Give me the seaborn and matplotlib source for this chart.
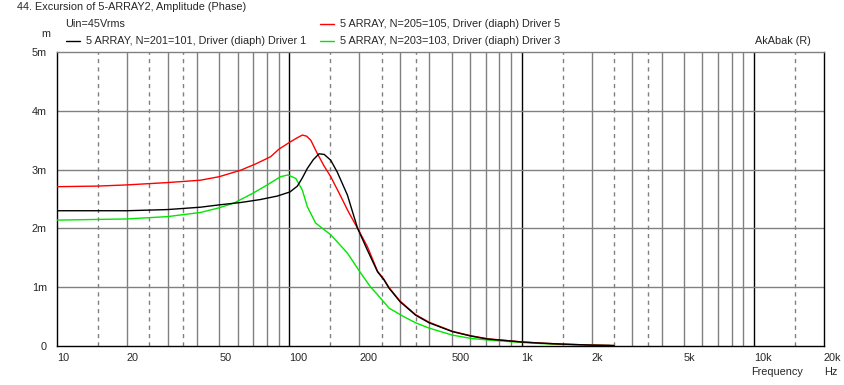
"""Excursion of 5-ARRAY2 (AkAbak style plot)"""

import matplotlib
matplotlib.use("Agg")
import matplotlib.pyplot as plt
import seaborn as sns
import pandas as pd

# Driver 5 (red)
freq_d5 = [10, 15, 20, 30, 41.5, 50, 61.8, 72, 83.2, 90.4, 100.8, 108, 114, 119, 124,
           132, 141, 151, 167, 180, 197, 217, 240, 256, 269, 300, 350, 400, 504, 604,
           713, 899, 1000, 1200, 1480, 2000, 2500]
exc_d5 = [2.71, 2.72, 2.74, 2.78, 2.82, 2.88, 2.99, 3.10, 3.22, 3.35, 3.47, 3.54, 3.59,
          3.57, 3.50, 3.28, 3.07, 2.88, 2.54, 2.28, 2.00, 1.69, 1.27, 1.13, 0.99, 0.76,
          0.53, 0.40, 0.245, 0.17, 0.118, 0.082, 0.065, 0.045, 0.028, 0.01, 0.003]

# Driver 1 (black)
freq_d1 = [10, 20, 30, 41.5, 50, 61.8, 75, 88.9, 100.8, 108.5, 114, 119.7, 127, 134.5,
           141.5, 151, 161, 178, 197, 217, 240, 256, 269, 300, 350, 400, 504, 604, 713,
           899, 1000, 1200, 1480, 2000, 2500]
exc_d1 = [2.30, 2.30, 2.32, 2.36, 2.40, 2.44, 2.49, 2.55, 2.62, 2.72, 2.86, 3.02, 3.17,
          3.27, 3.26, 3.16, 2.96, 2.57, 2.00, 1.63, 1.26, 1.12, 0.98, 0.75, 0.52, 0.39,
          0.24, 0.165, 0.114, 0.08, 0.063, 0.045, 0.028, 0.01, 0.003]

# Driver 3 (green)
freq_d3 = [10, 20, 30, 41.5, 50, 57.8, 70, 80.5, 91.8, 98.9, 106.8, 114, 119.7, 130,
           151, 178, 203, 224, 240, 269, 313, 350, 400, 504, 604, 713, 899, 1000, 1370,
           1800, 2400]
exc_d3 = [2.14, 2.16, 2.20, 2.27, 2.35, 2.43, 2.60, 2.74, 2.88, 2.91, 2.85, 2.65, 2.37,
          2.09, 1.89, 1.58, 1.24, 1.00, 0.87, 0.64, 0.49, 0.39, 0.30, 0.18, 0.125, 0.097,
          0.068, 0.055, 0.025, 0.012, 0.004]

x_ticks = [10, 20, 50, 100, 200, 500, 1000, 2000, 5000, 10000, 20000]
x_labels = ["10", "20", "50", "100", "200", "500", "1k", "2k", "5k", "10k", "20k"]
y_ticks = [0, 1, 2, 3, 4, 5]
y_labels = ["0", "1m", "2m", "3m", "4m", "5m"]

df = pd.concat([
    pd.DataFrame({"freq": freq_d3, "exc": exc_d3, "driver": "Driver 3"}),
    pd.DataFrame({"freq": freq_d5, "exc": exc_d5, "driver": "Driver 5"}),
    pd.DataFrame({"freq": freq_d1, "exc": exc_d1, "driver": "Driver 1"}),
])
palette = {"Driver 5": "#ff0000", "Driver 1": "#000000", "Driver 3": "#00e600"}

sns.set_style("white")
plt.rcParams["font.family"] = ["Liberation Sans", "DejaVu Sans"]
FS = 7.8

W, H = 845, 385
fig = plt.figure(figsize=(W / 100, H / 100), dpi=100)
ax = fig.add_axes([56.7 / W, 1 - 345.7 / H, (824 - 56.7) / W, (345.7 - 52.3) / H])
ax.set_xscale("log")
ax.set_xlim(10, 20000)
ax.set_ylim(0, 5)

# grid like the original program
grey = "#808080"
for dec in [10, 100, 1000, 10000]:
    for m in range(2, 10):
        f = dec * m
        if f < 20000:
            ax.axvline(f, color=grey, lw=1.0, zorder=1)
    for m in [1.5, 2.5, 3.5]:
        f = dec * m
        if f < 20000:
            ax.axvline(f, color=grey, lw=1.0, ls=(0, (3, 3)), zorder=1)
for dec in [100, 1000, 10000]:
    ax.axvline(dec, color="black", lw=1.0, zorder=1)
for v in [1, 2, 3, 4]:
    ax.axhline(v, color=grey, lw=1.0, zorder=1)

sns.lineplot(data=df, x="freq", y="exc", hue="driver", palette=palette, sort=False,
             estimator=None, lw=1.0, legend=False, ax=ax, zorder=3)

for side in ["left", "bottom", "right"]:
    ax.spines[side].set_color("black")
    ax.spines[side].set_linewidth(1.0)
ax.spines["top"].set_color(grey)
ax.spines["top"].set_linewidth(1.0)

ax.set_xticks(x_ticks)
ax.set_xticklabels(x_labels, ha="left")
ax.xaxis.set_minor_locator(matplotlib.ticker.NullLocator())
ax.set_yticks(y_ticks)
ax.set_yticklabels(y_labels)
ax.tick_params(axis="x", direction="out", length=3, width=1, color="black", pad=2,
               labelsize=FS)
ax.tick_params(axis="y", direction="out", length=4, width=1, color=grey, pad=3,
               labelsize=FS)
ax.set_xlabel("")
ax.set_ylabel("")


def ftext(x, y, s, **kw):
    fig.text(x / W, 1 - y / H, s, va="center", fontsize=FS, **kw)


ftext(17, 7, "44. Excursion of 5-ARRAY2, Amplitude (Phase)")
ftext(65, 24, "Uin=45Vrms")
ftext(50, 34, "m", ha="right")
ftext(751, 372, "Frequency")
ftext(824, 372, "Hz")
ftext(755, 41, "AkAbak (R)")

legend_rows = [
    (66, 41, "#000000", "5 ARRAY, N=201=101, Driver (diaph) Driver 1"),
    (320, 24, "#ff0000", "5 ARRAY, N=205=105, Driver (diaph) Driver 5"),
    (320, 41, "#00e600", "5 ARRAY, N=203=103, Driver (diaph) Driver 3"),
]
for x0, y0, col, label in legend_rows:
    fig.add_artist(plt.Line2D([x0 / W, (x0 + 14) / W], [1 - y0 / H, 1 - y0 / H],
                              color=col, lw=1.0))
    ftext(x0 + 20, y0, label)

plt.savefig("out.png", dpi=100)
plt.close()
